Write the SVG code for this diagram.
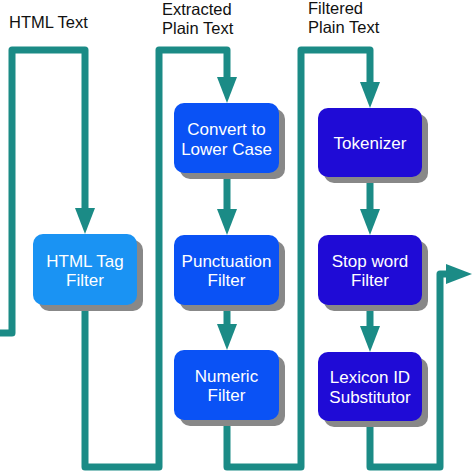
<svg xmlns="http://www.w3.org/2000/svg" width="474" height="474" viewBox="0 0 474 474">
<style>
.bg{fill:#ffffff}
.conn{fill:none;stroke:#1b8b86;stroke-width:7;stroke-linejoin:round}
.shadow{fill:#888888}
.lb{fill:#1a93f3}
.bl{fill:#0a52f5}
.ind{fill:#1f0bd6}
.t{font-family:"Liberation Sans",Arial,sans-serif;font-size:17px;fill:#ffffff;text-anchor:middle}
.lab{font-family:"Liberation Sans",Arial,sans-serif;font-size:16.5px;fill:#111111}
</style>
<defs>
<marker id="ah" markerUnits="userSpaceOnUse" markerWidth="26" markerHeight="20" viewBox="0 0 26 20" refX="0" refY="10" orient="auto">
<path d="M0,0 L26,10 L0,20 Z" fill="#1b8b86"/>
</marker>
</defs>
<rect class="bg" x="0" y="0" width="474" height="474"/>
<text class="lab" x="9" y="28">HTML Text</text>
<text class="lab" x="162" y="15">Extracted</text>
<text class="lab" x="162" y="34">Plain Text</text>
<text class="lab" x="308" y="14">Filtered</text>
<text class="lab" x="308" y="33">Plain Text</text>
<g id="connectors">
<path class="conn" d="M0,333 H12 V50 H85 V208" marker-end="url(#ah)"/>
<path class="conn" d="M85,305 V467 H159 V50 H227 V77" marker-end="url(#ah)"/>
<path class="conn" d="M227,173 V209" marker-end="url(#ah)"/>
<path class="conn" d="M227,305 V324" marker-end="url(#ah)"/>
<path class="conn" d="M227,420 V467 H301 V50 H370 V82" marker-end="url(#ah)"/>
<path class="conn" d="M370,177 V209" marker-end="url(#ah)"/>
<path class="conn" d="M370,305 V326" marker-end="url(#ah)"/>
<path class="conn" d="M370,421 V467 H440 V274 H446" marker-end="url(#ah)"/>
</g>
<g id="html-tag-filter">
<rect class="shadow" x="39" y="240" width="104" height="71" rx="10"/>
<rect class="lb" x="33" y="234" width="104" height="71" rx="10"/>
<text class="t" x="85" y="267">HTML Tag</text>
<text class="t" x="85" y="286">Filter</text>
</g>
<g id="convert-lower-case">
<rect class="shadow" x="180" y="109" width="105" height="70" rx="10"/>
<rect class="bl" x="174" y="103" width="105" height="70" rx="10"/>
<text class="t" x="226.5" y="135">Convert to</text>
<text class="t" x="226.5" y="155">Lower Case</text>
</g>
<g id="punctuation-filter">
<rect class="shadow" x="180" y="241" width="105" height="70" rx="10"/>
<rect class="bl" x="174" y="235" width="105" height="70" rx="10"/>
<text class="t" x="226.5" y="267">Punctuation</text>
<text class="t" x="226.5" y="286">Filter</text>
</g>
<g id="numeric-filter">
<rect class="shadow" x="180" y="356" width="105" height="70" rx="10"/>
<rect class="bl" x="174" y="350" width="105" height="70" rx="10"/>
<text class="t" x="226.5" y="382">Numeric</text>
<text class="t" x="226.5" y="401">Filter</text>
</g>
<g id="tokenizer">
<rect class="shadow" x="324" y="114" width="104" height="69" rx="10"/>
<rect class="ind" x="318" y="108" width="104" height="69" rx="10"/>
<text class="t" x="370" y="149">Tokenizer</text>
</g>
<g id="stop-word-filter">
<rect class="shadow" x="324" y="241" width="104" height="70" rx="10"/>
<rect class="ind" x="318" y="235" width="104" height="70" rx="10"/>
<text class="t" x="370" y="267">Stop word</text>
<text class="t" x="370" y="286">Filter</text>
</g>
<g id="lexicon-id-substitutor">
<rect class="shadow" x="324" y="358" width="104" height="69" rx="10"/>
<rect class="ind" x="318" y="352" width="104" height="69" rx="10"/>
<text class="t" x="370" y="383">Lexicon ID</text>
<text class="t" x="370" y="403">Substitutor</text>
</g>
</svg>
